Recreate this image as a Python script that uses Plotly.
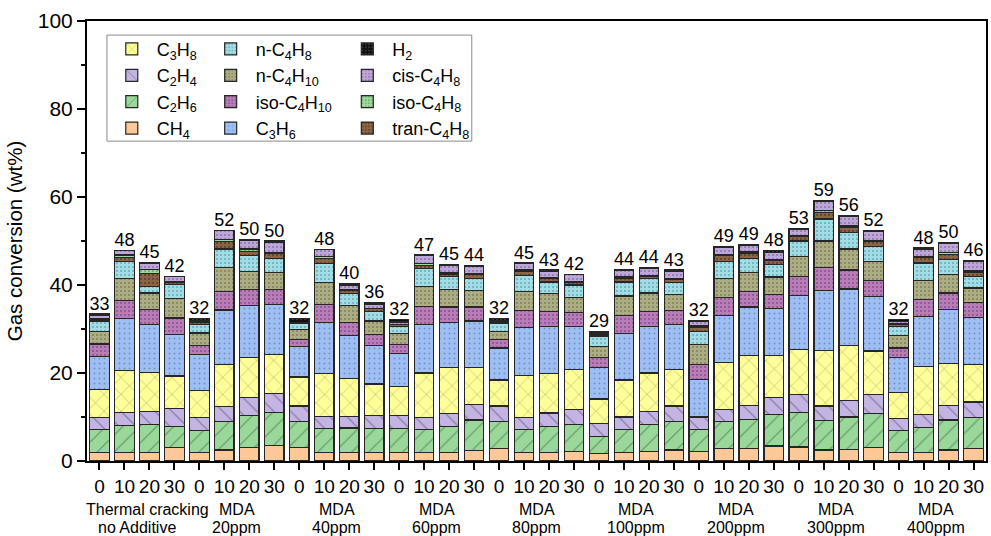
import plotly.graph_objects as go

# ---------------- data ----------------
time_labels = ["0", "10", "20", "30"] * 9
group_line1 = ["Thermal cracking", "MDA", "MDA", "MDA", "MDA", "MDA", "MDA", "MDA", "MDA"]
group_line2 = ["no Additive", "20ppm", "40ppm", "60ppm", "80ppm", "100ppm", "200ppm", "300ppm", "400ppm"]
totals = [33, 48, 45, 42, 32, 52, 50, 50, 32, 48, 40, 36, 32, 47, 45, 44, 32, 45, 43, 42,
          29, 44, 44, 43, 32, 49, 49, 48, 53, 59, 56, 52, 32, 48, 50, 46]

CH4 = [2.0, 1.9, 1.9, 3.0, 1.9, 2.5, 3.1, 3.5, 3.0, 2.0, 1.9, 1.9, 2.0, 1.9, 2.0, 2.4, 2.8, 1.9,
       1.9, 2.2, 1.7, 1.9, 2.2, 2.5, 2.1, 2.8, 2.8, 3.4, 3.2, 2.5, 2.6, 3.0, 1.9, 2.0, 2.5, 2.8]
C2H6 = [5.2, 6.2, 6.4, 4.9, 5.0, 6.5, 7.3, 7.5, 6.0, 5.3, 5.6, 5.4, 5.3, 5.3, 5.8, 6.9, 6.2, 5.3,
        6.0, 6.1, 3.9, 5.3, 6.1, 6.5, 5.1, 6.1, 6.6, 7.2, 7.8, 6.7, 7.4, 7.8, 5.1, 5.7, 6.8, 7.0]
C2H4 = [2.6, 3.0, 3.0, 4.0, 2.9, 3.3, 4.1, 4.3, 3.5, 2.9, 2.7, 3.1, 3.0, 2.6, 3.0, 3.5, 3.5, 2.6,
        3.0, 3.4, 2.9, 2.8, 3.0, 3.5, 2.6, 2.8, 3.2, 3.8, 4.1, 3.3, 3.8, 4.3, 2.6, 2.9, 3.3, 3.6]
C3H8 = [6.4, 9.5, 8.9, 7.4, 6.3, 9.6, 9.0, 8.9, 6.6, 9.6, 8.5, 7.1, 6.6, 10.2, 10.4, 8.4, 5.9, 9.6,
        9.0, 9.1, 5.6, 8.4, 8.7, 8.3, 0.2, 10.6, 11.4, 9.6, 10.2, 12.7, 12.5, 9.9, 5.9, 10.9, 9.6, 8.5]
C3H6 = [7.6, 11.7, 10.8, 9.5, 8.1, 12.4, 11.8, 11.4, 7.0, 11.6, 9.9, 8.7, 7.5, 11.0, 10.3, 10.6, 7.3, 10.9,
        10.6, 9.8, 7.1, 10.5, 10.5, 10.2, 8.5, 10.8, 11.0, 10.6, 12.3, 13.6, 12.8, 12.3, 8.0, 11.3, 12.2, 10.8]
iso_C4H10 = [2.8, 4.2, 3.4, 3.7, 2.0, 4.3, 3.7, 3.4, 1.5, 4.2, 2.8, 2.6, 2.1, 4.2, 3.5, 3.2, 1.9, 3.9,
             3.5, 3.2, 2.3, 4.1, 3.5, 3.2, 3.4, 4.0, 3.6, 3.2, 4.4, 5.1, 4.3, 3.8, 2.2, 3.9, 3.8, 3.3]
n_C4H10 = [2.9, 5.0, 3.8, 4.4, 2.9, 5.3, 4.1, 3.9, 2.3, 5.0, 4.0, 3.0, 2.4, 4.5, 4.0, 3.8, 1.9, 4.4,
           4.1, 3.4, 2.6, 4.5, 4.2, 3.6, 4.6, 4.3, 4.2, 4.0, 4.5, 6.1, 4.8, 4.3, 2.8, 4.4, 4.2, 3.3]
n_C4H8 = [2.3, 3.8, 1.5, 3.3, 1.9, 4.3, 3.6, 3.1, 1.3, 4.3, 2.6, 2.2, 1.7, 4.0, 2.9, 2.6, 1.7, 3.6,
          2.6, 2.8, 2.3, 3.2, 3.2, 2.7, 3.0, 4.0, 3.2, 2.8, 3.5, 5.0, 3.8, 3.3, 2.1, 3.9, 3.4, 2.6]
tran_C4H8 = [0.4, 1.0, 2.9, 0.4, 0.5, 1.7, 1.0, 1.2, 0.1, 1.2, 0.8, 0.6, 0.4, 0.8, 0.6, 0.9, 0.3, 1.0,
             0.8, 0.6, 0.4, 0.8, 0.5, 0.8, 0.9, 1.3, 1.2, 1.0, 1.0, 1.4, 1.2, 1.1, 0.5, 1.2, 1.2, 1.0]
iso_C4H8 = [0.2, 0.5, 0.9, 0.2, 0.2, 0.5, 0.5, 0.2, 0.05, 0.3, 0.2, 0.1, 0.1, 0.4, 0.3, 0.3, 0.1, 0.2,
            0.2, 0.1, 0.1, 0.3, 0.2, 0.2, 0.3, 0.3, 0.3, 0.2, 0.3, 0.5, 0.3, 0.3, 0.1, 0.3, 0.4, 0.3]
cis_C4H8 = [0.8, 1.0, 1.5, 1.1, 0.3, 1.9, 2.0, 2.3, 0.05, 1.6, 1.0, 1.0, 0.5, 1.8, 1.7, 1.6, 0.2, 1.5,
            1.4, 1.6, 0.3, 1.5, 1.6, 1.7, 1.1, 1.6, 1.5, 1.6, 1.3, 2.1, 2.0, 2.0, 0.5, 1.7, 2.0, 2.2]
H2 = [0.2, 0.1, 0.1, 0.1, 0.4, 0.1, 0.2, 0.3, 1.0, 0.1, 0.4, 0.3, 0.6, 0.1, 0.2, 0.2, 0.6, 0.1,
      0.3, 0.1, 0.2, 0.3, 0.3, 0.2, 0.2, 0.2, 0.2, 0.4, 0.2, 0.2, 0.3, 0.2, 0.5, 0.2, 0.2, 0.2]

# stacking order (bottom -> top), display name, legend column, colours, pattern
series = [
    (CH4, "CH<sub>4</sub>", "legend", "#FDC898", "", "#FDC898", 8, 0.1),
    (C2H6, "C<sub>2</sub>H<sub>6</sub>", "legend", "#9AD89A", "/", "#2c442c", 12, 0.09),
    (C2H4, "C<sub>2</sub>H<sub>4</sub>", "legend", "#C4B4E3", "\\", "#353048", 12, 0.09),
    (C3H8, "C<sub>3</sub>H<sub>8</sub>", "legend", "#FFFF99", "x", "#44442c", 12, 0.08),
    (C3H6, "C<sub>3</sub>H<sub>6</sub>", "legend2", "#9DBFF3", ".", "#51608a", 5, 0.12),
    (iso_C4H10, "iso-C<sub>4</sub>H<sub>10</sub>", "legend2", "#B87CB8", ".", "#5a2a5a", 4, 0.2),
    (n_C4H10, "n-C<sub>4</sub>H<sub>10</sub>", "legend2", "#ADAD84", ".", "#4e4e30", 4, 0.18),
    (n_C4H8, "n-C<sub>4</sub>H<sub>8</sub>", "legend2", "#A2DCE4", ".", "#3c7e8c", 4, 0.22),
    (tran_C4H8, "tran-C<sub>4</sub>H<sub>8</sub>", "legend3", "#8E6446", ".", "#3a2515", 4, 0.25),
    (iso_C4H8, "iso-C<sub>4</sub>H<sub>8</sub>", "legend3", "#9CDA9C", ".", "#3c6c3c", 4, 0.2),
    (cis_C4H8, "cis-C<sub>4</sub>H<sub>8</sub>", "legend3", "#BEA6DA", ".", "#5a4a72", 4, 0.2),
    (H2, "H<sub>2</sub>", "legend3", "#111111", ".", "#777777", 4, 0.2),
]

FONT = "Liberation Sans, Arial, sans-serif"
xpos = list(range(len(time_labels)))

fig = go.Figure()
for vals, name, leg, color, shape, fg, size, sol in series:
    pattern = dict(shape=shape, fgcolor=fg, bgcolor=color, size=size, solidity=sol, fillmode="overlay")
    fig.add_trace(go.Bar(
        x=xpos, y=vals, name=name, legend=leg,
        marker=dict(color=color, pattern=pattern, line=dict(color="#262626", width=1.2)),
    ))

stack_tops = [sum(s[0][i] for s in series) for i in xpos]
fig.add_trace(go.Scatter(
    x=xpos, y=stack_tops, mode="text", text=[str(t) for t in totals],
    textposition="top center", textfont=dict(family=FONT, size=18, color="black"),
    showlegend=False, hoverinfo="skip",
))

# group labels under the tick labels
annotations = []
for g, (l1, l2) in enumerate(zip(group_line1, group_line2)):
    cx = 4 * g + 1.5
    annotations.append(dict(x=cx, y=-0.111, xref="x", yref="paper", text=l1, showarrow=False,
                            xshift=11 if g == 0 else 0, yanchor="middle",
                            font=dict(family=FONT, size=16, color="black")))
    annotations.append(dict(x=cx, y=-0.152, xref="x", yref="paper", text=l2, showarrow=False,
                            yanchor="middle", font=dict(family=FONT, size=16, color="black")))

legend_common = dict(traceorder="reversed", bgcolor="rgba(0,0,0,0)", borderwidth=0,
                     font=dict(family=FONT, size=18, color="black"), itemwidth=40,
                     yanchor="top", y=0.978, xanchor="left", tracegroupgap=0,
                     itemclick=False, itemdoubleclick=False)

fig.update_layout(
    width=991, height=536,
    margin=dict(l=87, r=3, t=21, b=75),
    barmode="stack", bargap=0.22,
    plot_bgcolor="white", paper_bgcolor="white",
    font=dict(family=FONT, color="black"),
    showlegend=True,
    legend=dict(legend_common, x=0.022),
    legend2=dict(legend_common, x=0.132),
    legend3=dict(legend_common, x=0.284),
    annotations=annotations,
    shapes=[dict(type="rect", xref="paper", yref="paper", x0=0.0222, x1=0.428, y0=0.727, y1=0.968,
                 line=dict(color="#8a8a8a", width=1), fillcolor="rgba(0,0,0,0)", layer="above")],
    xaxis=dict(range=[-0.5, len(xpos) - 0.5], tickmode="array", tickvals=xpos, ticktext=time_labels,
               ticks="outside", ticklen=7, tickwidth=1.5, tickcolor="black",
               showline=True, linecolor="black", linewidth=2, mirror=True, showgrid=False,
               zeroline=False, tickfont=dict(family=FONT, size=19, color="black")),
    yaxis=dict(range=[0, 100], dtick=20, ticks="outside", ticklen=8, tickwidth=1.5, tickcolor="black",
               minor=dict(dtick=10, ticks="outside", ticklen=4, tickcolor="black", tickwidth=1.5),
               showline=True, linecolor="black", linewidth=2, mirror=True, showgrid=False,
               zeroline=False, tickfont=dict(family=FONT, size=21, color="black"),
               title=dict(text="Gas conversion (wt%)", font=dict(family=FONT, size=20.5, color="black"),
                          standoff=10)),
)

fig.write_html("out.html")
